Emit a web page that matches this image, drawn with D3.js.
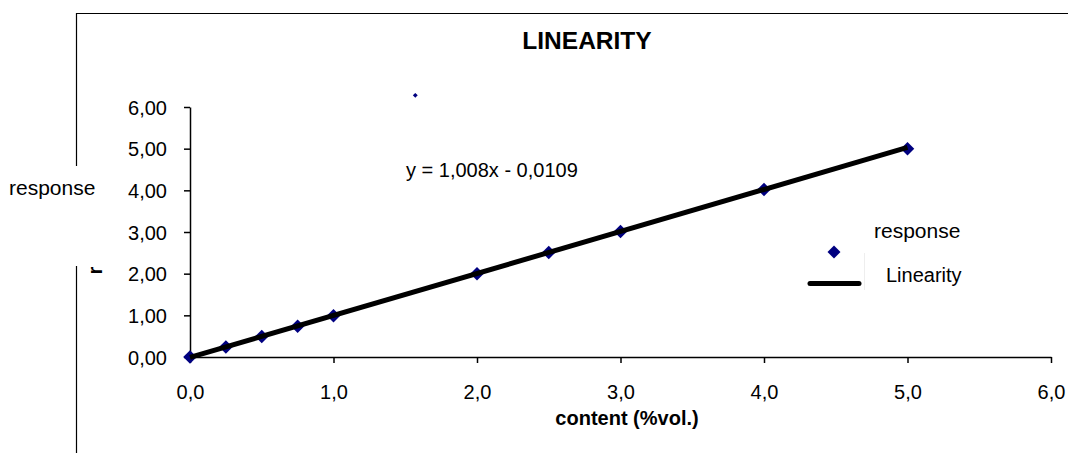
<!DOCTYPE html>
<html><head><meta charset="utf-8">
<script src="https://cdn.jsdelivr.net/npm/d3@7"></script>
<style>body{margin:0;background:#fff}svg{display:block;font-family:"Liberation Sans",Arial,sans-serif}</style>
</head><body><svg id="c" width="1068" height="453"></svg>
<script>
const contentX = [0, 0.25, 0.5, 0.75, 1, 2, 2.5, 3, 4, 5];
const responseY = [0, 0.24, 0.49, 0.74, 0.99, 2.0, 2.51, 3.01, 4.02, 5.0];
const strayPoint = [[1.57, 6.28]];
const slope = 1.008, intercept = -0.0109;
const xTicks = [0, 1, 2, 3, 4, 5, 6];
const yTicks = [0, 1, 2, 3, 4, 5, 6];
const titleText = "LINEARITY";
const xTitle = "content (%vol.)";
const yTitle = "response";
const eqText = "y = 1,008x - 0,0109";
const legendNames = ["response", "Linearity"];

const svg = d3.select("#c");
const FONT = "Liberation Sans, Arial, sans-serif";
const x = d3.scaleLinear().domain([0, 6]).range([190, 1051]);
const y = d3.scaleLinear().domain([0, 6]).range([357, 107]);
const comma = f => v => f(v).replace(".", ",");

// outer frame (partial)
svg.append("path").attr("d", "M76.5,453V266M76.5,166V13.5H1068").attr("fill", "none").attr("stroke", "#000").attr("stroke-width", 1.2);

// axes
const gx = svg.append("g").attr("transform", `translate(0,${y(0)})`)
  .call(d3.axisBottom(x).tickValues(xTicks).tickFormat(comma(d3.format(".1f"))).tickSize(6).tickSizeOuter(0));
const gy = svg.append("g").attr("transform", `translate(${x(0)},0)`)
  .call(d3.axisLeft(y).tickValues(yTicks).tickFormat(comma(d3.format(".2f"))).tickSize(6).tickSizeOuter(0));
[gx, gy].forEach(g => {
  g.attr("font-size", 20).attr("font-family", FONT);
  g.select(".domain").attr("stroke", "#000").attr("stroke-width", 1.5);
  g.selectAll(".tick line").attr("stroke", "#000").attr("stroke-width", 1.5);
  g.selectAll("text").attr("fill", "#000");
});
gx.selectAll("text").attr("dy", "0").attr("y", 42);
gy.selectAll("text").attr("x", -23).attr("dy", "0.35em");

// markers
const pts = contentX.map((v, i) => [v, responseY[i]]);
svg.selectAll(".pt").data(pts).join("path")
  .attr("d", d3.symbol().type(d3.symbolSquare).size(92)())
  .attr("transform", d => `translate(${x(d[0])},${y(d[1])}) rotate(45)`)
  .attr("fill", "#000080");
svg.selectAll(".stray").data(strayPoint).join("path")
  .attr("d", d3.symbol().type(d3.symbolSquare).size(12)())
  .attr("transform", d => `translate(${x(d[0])},${y(d[1])}) rotate(45)`)
  .attr("fill", "#000080");

// trendline (drawn over markers)
const line = d3.line().x(d => x(d)).y(d => y(slope * d + intercept));
svg.append("path").datum([0, 5]).attr("d", line).attr("stroke", "#000").attr("stroke-width", 5).attr("fill", "none");

// texts
const T = (xx, yy, s, size, bold) => svg.append("text").attr("x", xx).attr("y", yy)
  .attr("font-family", FONT).attr("font-size", size).attr("font-weight", bold ? "bold" : "normal").text(s);
T(587, 49, titleText, 24.5, true).attr("text-anchor", "middle");
T(627, 425, xTitle, 20, true).attr("text-anchor", "middle");
T(9, 195, yTitle, 21, false);
T(406, 177, eqText, 20, false);

// clipped rotated y-title remnant
svg.append("clipPath").attr("id", "rc").append("rect").attr("x", 86).attr("y", 266.5).attr("width", 22).attr("height", 6.5);
svg.append("g").attr("clip-path", "url(#rc)")
  .append("text").attr("transform", "translate(101.5,274.5) rotate(-90)")
  .attr("font-family", FONT).attr("font-weight", "bold").attr("font-size", 20).text("r");

// legend
svg.append("path").attr("d", d3.symbol().type(d3.symbolSquare).size(84)())
  .attr("transform", "translate(834,252) rotate(45)").attr("fill", "#000080");
svg.append("line").attr("x1", 810).attr("x2", 859).attr("y1", 283.5).attr("y2", 283.5).attr("stroke", "#000").attr("stroke-width", 5).attr("stroke-linecap", "round");
svg.append("line").attr("x1", 864.5).attr("x2", 864.5).attr("y1", 253).attr("y2", 290).attr("stroke", "#eee").attr("stroke-width", 1);
T(874, 238, legendNames[0], 21, false);
T(886, 282, legendNames[1], 20, false);
</script></body></html>
